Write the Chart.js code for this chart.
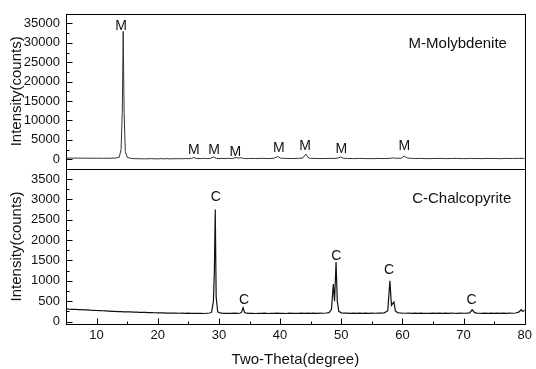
<!DOCTYPE html>
<html>
<head>
<meta charset="utf-8">
<script src="https://cdn.jsdelivr.net/npm/chart.js@4.4.1/dist/chart.umd.min.js"></script>
<style>
  html, body { margin: 0; padding: 0; background: #fff; }
  #wrap { width: 536px; height: 369px; }
</style>
</head>
<body>
<div id="wrap"><canvas id="xrdChart" width="536" height="369"></canvas></div>
<script>
// molybdenite pattern (top panel)
const moTheta = [5, 6, 7, 8, 9, 10, 11, 12, 13, 13.7, 14.0, 14.2, 14.35, 14.5, 14.7, 15.0, 15.5, 16, 17, 18, 19, 20, 20.5, 21, 21.5, 22, 22.5, 23, 23.5, 24, 24.5, 25, 25.5, 25.9, 26.3, 27, 27.5, 28, 28.6, 29.1, 29.6, 30, 30.5, 31, 31.5, 32, 32.4, 32.8, 33.2, 33.6, 34, 34.5, 35, 36, 37, 38, 39, 39.6, 40.1, 41, 42, 43, 43.7, 44.2, 44.6, 45, 46, 47, 48, 49, 49.5, 49.9, 50.4, 51, 52, 53, 54, 55, 56, 57, 58, 58.4, 59, 59.8, 60.3, 60.8, 61.5, 62, 63, 64, 65, 66, 67, 68, 69, 70, 71, 72, 73, 74, 75, 76, 77, 78, 79, 80];
const moCounts = [300, 280, 290, 260, 250, 270, 240, 250, 280, 500, 2500, 12000, 33000, 12000, 2000, 500, 250, 150, 120, 100, 140, 80, 160, 90, 150, 70, 140, 100, 160, 90, 180, 130, 200, 450, 180, 150, 220, 160, 200, 550, 200, 170, 230, 150, 220, 180, 250, 450, 280, 380, 200, 150, 200, 170, 220, 160, 240, 700, 260, 200, 170, 230, 300, 1300, 350, 220, 190, 160, 210, 200, 300, 550, 230, 200, 150, 210, 170, 140, 200, 160, 220, 350, 230, 260, 800, 300, 200, 170, 210, 140, 180, 200, 150, 190, 210, 140, 200, 170, 150, 200, 180, 140, 210, 170, 230, 200];

// chalcopyrite pattern (bottom panel)
const cuTheta = [
    5, 5.5, 6, 6.5, 7, 7.5, 8, 8.5, 9, 9.5,
    10, 10.5, 11, 11.5, 12, 12.5, 13, 13.5, 14, 14.5,
    15, 15.5, 16, 16.5, 17, 17.5, 18, 18.5, 19, 19.5,
    20, 20.5, 21, 21.5, 22, 22.5, 23, 23.5, 24, 24.5,
    25, 25.5, 26, 26.5, 27, 27.5, 28, 28.5,
    28.8, 29.1, 29.25, 29.4, 29.55, 29.8, 30.2, 30.5,
    31, 31.5, 32, 32.5, 33, 33.5, 33.7, 33.95, 34.2, 34.5,
    35, 35.5, 36, 36.5, 37, 37.5, 38, 38.5, 39, 39.5,
    40, 40.5, 41, 41.5, 42, 42.5, 43, 43.5, 44, 44.5,
    45, 45.5, 46, 46.5, 47, 47.5, 48,
    48.4, 48.7, 48.9, 49.15, 49.35, 49.6, 50, 50.5,
    51, 51.5, 52, 52.5, 53, 53.5, 54, 54.5, 55, 55.5,
    56, 56.5, 57, 57.6, 57.95, 58.2, 58.6, 58.85, 59.2, 59.6,
    60, 60.5, 61, 61.5, 62, 62.5, 63, 63.5, 64, 64.5,
    65, 65.5, 66, 66.5, 67, 67.5, 68, 68.5, 69, 69.5,
    70, 70.5, 71, 71.4, 71.8, 72.2, 72.5, 73, 73.5, 74,
    74.5, 75, 75.5, 76, 76.5, 77, 77.5, 78, 78.5, 79,
    79.4, 79.6, 79.8, 80
];
const cuCounts = [
    312, 305, 300, 302, 292, 295, 286, 288, 280, 276,
    272, 270, 265, 262, 258, 252, 250, 246, 244, 240,
    238, 236, 232, 230, 228, 224, 226, 220, 220, 216,
    215, 212, 214, 208, 210, 206, 208, 204, 206, 202,
    206, 200, 204, 200, 202, 198, 204, 210,
    230, 500, 1200, 2750, 600, 240, 212, 205,
    200, 204, 200, 205, 202, 210, 230, 340, 220, 205,
    200, 204, 198, 204, 200, 205, 198, 204, 200, 206,
    200, 204, 198, 205, 200, 204, 200, 206, 202, 208,
    202, 205, 200, 206, 204, 210, 218,
    300, 920, 500, 1460, 500, 250, 215, 206,
    208, 202, 205, 200, 206, 202, 208, 203, 206, 204,
    210, 208, 215, 260, 1000, 400, 480, 260, 220, 210,
    206, 204, 208, 202, 206, 200, 205, 202, 204, 200,
    206, 203, 208, 202, 205, 200, 206, 204, 200, 205,
    204, 208, 215, 290, 220, 208, 204, 200, 206, 203,
    205, 200, 206, 202, 205, 200, 206, 204, 210, 230,
    290, 250, 262, 280
];

const xTicks = [10, 20, 30, 40, 50, 60, 70, 80];
const moTicks = [0, 5000, 10000, 15000, 20000, 25000, 30000, 35000];
const cuTicks = [0, 500, 1000, 1500, 2000, 2500, 3000, 3500];

// peak markers (2-theta, label height in counts)
const moPeakTheta = [14.0, 25.9, 29.2, 32.7, 39.8, 44.1, 50.0, 60.3];
const moPeakLabelY = [34200, 2400, 2450, 1800, 2900, 3450, 2600, 3300];
const cuPeakTheta = [29.5, 34.1, 49.2, 57.8, 71.3];
const cuPeakLabelY = [3050, 520, 1600, 1270, 520];

const FONT = '"Liberation Sans", Arial, sans-serif';

function toPoints(xs, ys) {
    return xs.map((x, i) => ({ x: x, y: ys[i] }));
}

// frames, inward ticks and peak letters
const framePlugin = {
    id: 'frame',
    afterDatasetsDraw(chart) {
        const ctx = chart.ctx;
        const area = chart.chartArea;
        const xs = chart.scales.x;
        ctx.save();
        ctx.strokeStyle = '#000';
        ctx.lineWidth = 1;

        ['yMo', 'yCu'].forEach(id => {
            const s = chart.scales[id];
            const top = Math.round(s.top) + 0.5;
            const bot = Math.round(s.bottom) + 0.5;
            const left = Math.round(area.left) + 0.5;
            const right = Math.round(area.right) + 0.5;
            ctx.strokeRect(left, top, right - left, bot - top);
            const step = s.ticks[1].value - s.ticks[0].value;
            ctx.beginPath();
            s.ticks.forEach(t => {
                const y = Math.round(s.getPixelForValue(t.value)) + 0.5;
                ctx.moveTo(left, y); ctx.lineTo(left + 6, y);
                const m = t.value + step / 2;
                if (m < s.max) {
                    const ym = Math.round(s.getPixelForValue(m)) + 0.5;
                    ctx.moveTo(left, ym); ctx.lineTo(left + 3, ym);
                }
            });
            ctx.stroke();
        });

        // x ticks along the bottom axis
        const base = Math.round(area.bottom) + 0.5;
        ctx.beginPath();
        xTicks.forEach(v => {
            const x = Math.round(xs.getPixelForValue(v)) + 0.5;
            ctx.moveTo(x, base); ctx.lineTo(x, base - 6);
            const m = v - 5;
            if (m > xs.min) {
                const xm = Math.round(xs.getPixelForValue(m)) + 0.5;
                ctx.moveTo(xm, base); ctx.lineTo(xm, base - 3);
            }
        });
        ctx.stroke();

        ctx.fillStyle = '#111';
        ctx.textAlign = 'center';
        ctx.textBaseline = 'middle';
        ctx.font = '14px ' + FONT;
        const yMo = chart.scales.yMo, yCu = chart.scales.yCu;
        moPeakTheta.forEach((t, i) => {
            ctx.fillText('M', xs.getPixelForValue(t), yMo.getPixelForValue(moPeakLabelY[i]));
        });
        cuPeakTheta.forEach((t, i) => {
            ctx.fillText('C', xs.getPixelForValue(t), yCu.getPixelForValue(cuPeakLabelY[i]));
        });

        ctx.font = '15px ' + FONT;
        ctx.fillText('M-Molybdenite', area.right - 67, yMo.top + 30);
        ctx.fillText('C-Chalcopyrite', area.right - 63, yCu.top + 30);
        ctx.restore();
    }
};

function yAxis(min, max, ticks) {
    return {
        type: 'linear',
        position: 'left',
        stack: 'xrd',
        stackWeight: 1,
        min: min,
        max: max,
        afterBuildTicks: s => { s.ticks = ticks.map(v => ({ value: v })); },
        afterFit: s => { s.width = 66; },
        grid: { display: false, drawTicks: false },
        border: { display: false },
        ticks: {
            color: '#111',
            font: { family: FONT, size: 13 },
            padding: 6,
            autoSkip: false,
            callback: v => String(v)
        },
        title: {
            display: true,
            text: 'Intensity(counts)',
            color: '#111',
            font: { family: FONT, size: 15 },
            padding: { top: 8, bottom: 0 }
        }
    };
}

const ctx = document.getElementById('xrdChart').getContext('2d');
new Chart(ctx, {
    type: 'line',
    data: {
        datasets: [
            {
                label: 'Molybdenite',
                data: toPoints(moTheta, moCounts),
                yAxisID: 'yMo',
                borderColor: '#333',
                borderWidth: 1,
                pointRadius: 0,
                tension: 0
            },
            {
                label: 'Chalcopyrite',
                data: toPoints(cuTheta, cuCounts),
                yAxisID: 'yCu',
                borderColor: '#111',
                borderWidth: 1.2,
                pointRadius: 0,
                tension: 0
            }
        ]
    },
    options: {
        responsive: false,
        animation: false,
        devicePixelRatio: 1,
        layout: { padding: { left: 0, top: 3, right: 9, bottom: 0 } },
        plugins: { legend: { display: false }, tooltip: { enabled: false } },
        scales: {
            x: {
                type: 'linear',
                min: 5,
                max: 80,
                afterBuildTicks: s => { s.ticks = xTicks.map(v => ({ value: v })); },
                afterFit: s => { s.height = 45; },
                grid: { display: false, drawTicks: false },
                border: { display: false },
                ticks: { color: '#111', font: { family: FONT, size: 13 }, padding: 4, maxRotation: 0 },
                title: {
                    display: true,
                    text: 'Two-Theta(degree)',
                    color: '#111',
                    font: { family: FONT, size: 15 },
                    padding: { top: 0, bottom: 0 }
                }
            },
            // bottom panel listed first so that it stacks below the top one
            yCu: yAxis(-60, 3750, cuTicks),
            yMo: yAxis(-2500, 37500, moTicks)
        }
    },
    plugins: [framePlugin]
});
</script>
</body>
</html>
